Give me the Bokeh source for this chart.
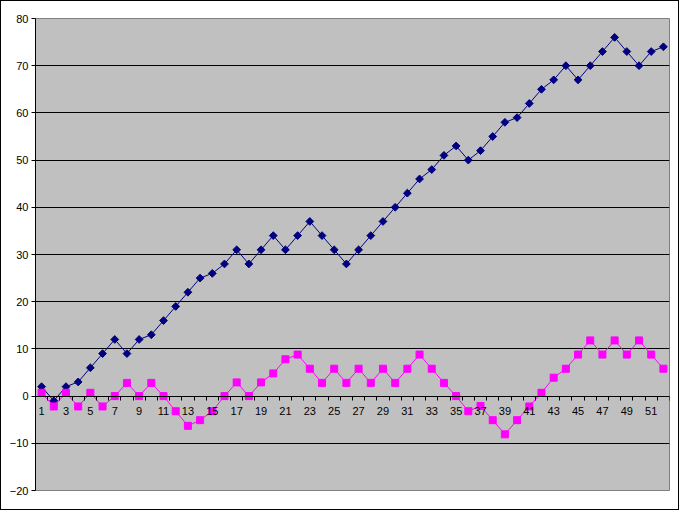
from bokeh.plotting import figure
from bokeh.models import FixedTicker, Range1d
from bokeh.embed import file_html
from bokeh.resources import INLINE
import math

categories = list(range(1, 53))
series_a = [2, -1, 2, 3, 6, 9, 12, 9, 12, 13, 16, 19, 22, 25, 26, 28, 31, 28, 31, 34,
            31, 34, 37, 34, 31, 28, 31, 34, 37, 40, 43, 46, 48, 51, 53, 50, 52, 55, 58, 59,
            62, 65, 67, 70, 67, 70, 73, 76, 73, 70, 73, 74]
series_b = [0.7, -2.2, 0.7, -2.2, 0.7, -2.2, 0, 2.8, 0, 2.8, 0, -3.2, -6.3, -5.1, -3.2, 0, 2.9, 0, 2.9, 4.8,
            7.8, 8.8, 5.8, 2.8, 5.8, 2.8, 5.8, 2.8, 5.8, 2.8, 5.8, 8.8, 5.8, 2.8, 0, -3.2, -2.1, -5.1, -8.1, -5.1,
            -2.2, 0.7, 3.9, 5.8, 8.8, 11.8, 8.8, 11.8, 8.8, 11.8, 8.8, 5.8]
y_ticks = [-20, -10, 0, 10, 20, 30, 40, 50, 60, 70, 80]
x_label_ticks = list(range(1, 53, 2))

p = figure(width=679, height=510, output_backend="svg", toolbar_location=None,
           x_range=Range1d(0.5, 52.5), y_range=Range1d(-20, 80),
           min_border_left=34, min_border_right=11, min_border_top=17, min_border_bottom=21)
p.styles = {"border": "1px solid black", "box-sizing": "border-box"}

p.background_fill_color = "#C0C0C0"
p.border_fill_color = "white"
p.outline_line_color = "#808080"
p.outline_line_width = 1

# grid
p.xgrid.visible = False
p.ygrid.ticker = FixedTicker(ticks=y_ticks)
p.ygrid.grid_line_color = "black"
p.ygrid.grid_line_width = 1

# y axis
p.yaxis.ticker = FixedTicker(ticks=y_ticks)
p.yaxis.axis_line_color = "black"
p.yaxis.major_tick_line_color = "black"
p.yaxis.major_tick_out = 4
p.yaxis.major_tick_in = 0
p.yaxis.minor_tick_line_color = None
p.yaxis.major_label_text_font = "Liberation Sans"
p.yaxis.major_label_text_font_size = "11px"
p.yaxis.major_label_text_color = "black"
p.yaxis.major_label_standoff = 3

# x axis at zero
xa = p.xaxis[0]
xa.fixed_location = 0
xa.ticker = FixedTicker(ticks=x_label_ticks, minor_ticks=[c - 0.5 for c in categories] + [52.5])
xa.axis_line_color = "black"
xa.major_tick_line_color = None
xa.minor_tick_line_color = "black"
xa.minor_tick_out = 4
xa.minor_tick_in = 0
xa.major_label_text_font = "Liberation Sans"
xa.major_label_text_font_size = "11px"
xa.major_label_text_color = "black"
xa.major_label_standoff = 5

# series
p.line(categories, series_a, line_color="#000080", line_width=1)
p.scatter(categories, series_a, marker="square", angle=math.pi / 4, size=5.5,
          fill_color="#000080", line_color="#000080")
p.line(categories, series_b, line_color="#FF00FF", line_width=1)
p.scatter(categories, series_b, marker="square", size=7, fill_color="#FF00FF", line_color="#FF00FF")

open("out.html", "w").write(file_html(p, INLINE))
